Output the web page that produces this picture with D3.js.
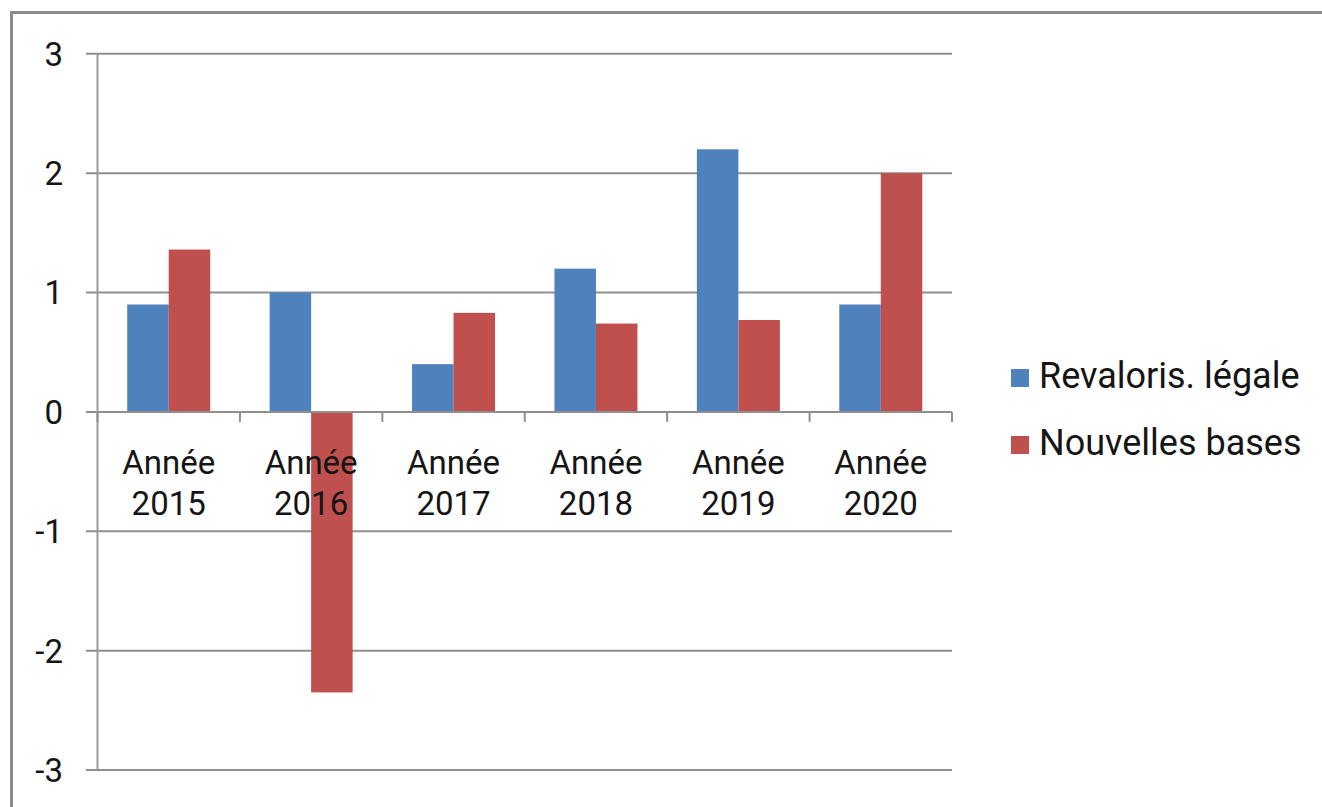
<!DOCTYPE html>
<html>
<head>
<meta charset="utf-8">
<script src="https://cdn.jsdelivr.net/npm/d3@7"></script>
<style>
  html, body { margin: 0; padding: 0; background: #fff; }
  svg { display: block; }
  text { font-family: Roboto, "DejaVu Sans", sans-serif; fill: #151515; }
</style>
</head>
<body>
<svg id="chart" width="1322" height="807"></svg>
<script>
// Chart data
const categories = ["Année 2015", "Année 2016", "Année 2017", "Année 2018", "Année 2019", "Année 2020"];
const seriesNames = ["Revaloris. légale", "Nouvelles bases"];
const revalorisLegale = [0.9, 1.0, 0.4, 1.2, 2.2, 0.9];
const nouvellesBases = [1.36, -2.35, 0.83, 0.74, 0.77, 2.0];
const yTicks = [-3, -2, -1, 0, 1, 2, 3];
const colors = ["#4F81BD", "#C0504D"];

const svg = d3.select("#chart");

// Outer frame of the chart area
svg.append("rect")
  .attr("x", 11.5).attr("y", 12.5)
  .attr("width", 1322).attr("height", 807)
  .attr("fill", "none").attr("stroke", "#8c8c8c").attr("stroke-width", 3);

const plot = { left: 97.5, right: 952, top: 53.8, bottom: 770 };

const y = d3.scaleLinear().domain([-3, 3]).range([plot.bottom, plot.top]);
const x = d3.scaleBand().domain(categories).range([plot.left, plot.right]).padding(0);
const barW = 41.5;

// Horizontal gridlines with small outer ticks
svg.append("g").selectAll("line").data(yTicks).join("line")
  .attr("x1", 86).attr("x2", plot.right)
  .attr("y1", d => y(d)).attr("y2", d => y(d))
  .attr("stroke", "#8f8f8f").attr("stroke-width", 2);

// Vertical axis line
svg.append("line")
  .attr("x1", plot.left).attr("x2", plot.left)
  .attr("y1", y(3)).attr("y2", y(-3))
  .attr("stroke", "#9a9a9a").attr("stroke-width", 2);

// Y tick labels
svg.append("g").selectAll("text").data(yTicks).join("text")
  .attr("x", 63).attr("y", d => y(d))
  .attr("dy", "0.36em")
  .attr("text-anchor", "end")
  .attr("font-size", 33)
  .text(d => d);

// Bars
const series = [revalorisLegale, nouvellesBases];
series.forEach((vals, si) => {
  svg.append("g").selectAll("rect").data(vals).join("rect")
    .attr("x", (d, i) => x(categories[i]) + x.bandwidth() / 2 - barW + si * barW)
    .attr("width", barW)
    .attr("y", d => y(Math.max(0, d)))
    .attr("height", d => Math.abs(y(d) - y(0)))
    .attr("fill", colors[si]);
});

// Zero axis with category boundary ticks
svg.append("line")
  .attr("x1", plot.left).attr("x2", plot.right)
  .attr("y1", y(0)).attr("y2", y(0))
  .attr("stroke", "#8f8f8f").attr("stroke-width", 2);
const bounds = categories.map(c => x(c)).concat([plot.right]);
svg.append("g").selectAll("line").data(bounds).join("line")
  .attr("x1", d => d).attr("x2", d => d)
  .attr("y1", y(0)).attr("y2", y(0) + 10)
  .attr("stroke", "#8f8f8f").attr("stroke-width", 2);

// Category labels on two lines
const cat = svg.append("g").selectAll("text").data(categories).join("text")
  .attr("text-anchor", "middle")
  .attr("font-size", 33);
cat.append("tspan")
  .attr("x", d => x(d) + x.bandwidth() / 2).attr("y", 474)
  .text(d => d.split(" ")[0]);
cat.append("tspan")
  .attr("x", d => x(d) + x.bandwidth() / 2).attr("y", 515)
  .text(d => d.split(" ")[1]);

// Legend
const legend = svg.append("g");
const legendBase = [388, 455];
seriesNames.forEach((name, i) => {
  legend.append("rect")
    .attr("x", 1011).attr("y", legendBase[i] - 19)
    .attr("width", 18).attr("height", 18)
    .attr("fill", colors[i]);
  legend.append("text")
    .attr("x", 1039).attr("y", legendBase[i])
    .attr("font-size", 36)
    .text(name);
});
</script>
</body>
</html>
